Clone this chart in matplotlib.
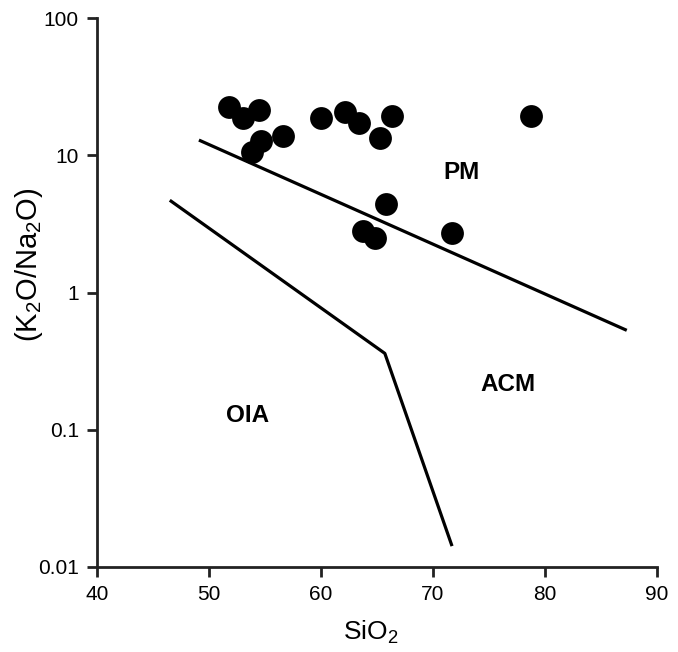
import matplotlib
matplotlib.use("Agg")
import matplotlib.pyplot as plt

plt.rcParams['font.family'] = ['Liberation Sans', 'DejaVu Sans']
plt.rcParams['mathtext.fontset'] = 'custom'
plt.rcParams['mathtext.rm'] = 'Liberation Sans'
plt.rcParams['mathtext.it'] = 'Liberation Sans'
plt.rcParams['mathtext.default'] = 'rm'

# Sample data
sio2 = [51.8, 53.0, 54.5, 53.8, 54.6, 56.6, 60.0, 62.1, 63.4, 65.3, 66.3, 65.8, 63.75, 64.8, 71.7, 78.75]
k2o_na2o = [22.5, 18.7, 21.4, 10.6, 12.7, 13.8, 18.7, 20.7, 17.2, 13.4, 19.3, 4.4, 2.8, 2.5, 2.7, 19.3]

# Discrimination boundaries
upper_x = [49.1, 87.3]
upper_y = [12.9, 0.53]
lower_x = [46.5, 65.7, 71.7]
lower_y = [4.7, 0.36, 0.0142]

# Field labels
field_names = ["PM", "ACM", "OIA"]
field_x = [72.5, 76.7, 53.4]
field_y = [7.55, 0.215, 0.126]

xticks = [40, 50, 60, 70, 80, 90]
yticks = [0.01, 0.1, 1, 10, 100]
ytick_labels = ["0.01", "0.1", "1", "10", "100"]

W, H = 678, 652
fig = plt.figure(figsize=(W / 100, H / 100), dpi=100)
ax = fig.add_axes([97 / W, 1 - 567 / H, 560 / W, 549 / H])

ax.plot(upper_x, upper_y, color='black', lw=2.3, solid_capstyle='butt')
ax.plot(lower_x, lower_y, color='black', lw=2.3, solid_capstyle='butt')
ax.scatter(sio2, k2o_na2o, s=270, color='black', zorder=3, linewidths=0)

for name, fx, fy in zip(field_names, field_x, field_y):
    ax.text(fx, fy, name, ha='center', va='center', fontsize=17.5, fontweight='bold')

ax.set_yscale('log')
ax.set_xlim(40, 90)
ax.set_ylim(0.01, 100)
ax.set_xticks(xticks)
ax.set_yticks(yticks)
ax.set_yticklabels(ytick_labels)
ax.yaxis.set_minor_locator(matplotlib.ticker.NullLocator())

for s in ['top', 'right']:
    ax.spines[s].set_visible(False)
for s in ['left', 'bottom']:
    ax.spines[s].set_linewidth(2.0)
    ax.spines[s].set_color('#222222')
ax.tick_params(axis='both', direction='out', length=7, width=2.0, labelsize=15,
               color='#222222', pad=6)

fig.text(371 / W, 1 - 632 / H, "SiO$_2$", fontsize=19, ha='center', va='center')
fig.text(29 / W, 1 - 265 / H, "(K$_2$O/Na$_2$O)", fontsize=21, ha='center', va='center',
         rotation=90)

fig.savefig("out.png", dpi=100, facecolor='white')
